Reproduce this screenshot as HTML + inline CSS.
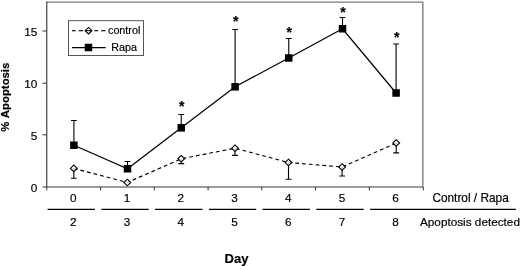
<!DOCTYPE html><html><head><meta charset="utf-8"><style>html,body{margin:0;padding:0;background:#fff}svg{display:block}text{stroke:#000;stroke-width:0.18px}</style></head><body><svg width="520" height="266" viewBox="0 0 520 266" font-family="'Liberation Sans', Arial, Helvetica, sans-serif" font-size="11.75" fill="#000" stroke="#000" stroke-width="0">
<rect width="520" height="266" fill="#fff"/>
<path d="M46.75 2.05H422.85V187.0" fill="none" stroke="#7a7a7a" stroke-width="1.35"/>
<path d="M46.75 1.5499999999999998V187.0H422.85" fill="none" stroke="#3a3a3a" stroke-width="1.15"/>
<line x1="42.45" y1="187.0" x2="46.75" y2="187.0" stroke="#333" stroke-width="1"/>
<text x="37.3" y="192.0" text-anchor="end">0</text>
<line x1="42.45" y1="134.8" x2="46.75" y2="134.8" stroke="#333" stroke-width="1"/>
<text x="37.3" y="139.8" text-anchor="end">5</text>
<line x1="42.45" y1="83.2" x2="46.75" y2="83.2" stroke="#333" stroke-width="1"/>
<text x="37.3" y="88.2" text-anchor="end">10</text>
<line x1="42.45" y1="31.0" x2="46.75" y2="31.0" stroke="#333" stroke-width="1"/>
<text x="37.3" y="36.0" text-anchor="end">15</text>
<line x1="46.75" y1="187.0" x2="46.75" y2="190.4" stroke="#333" stroke-width="1"/>
<line x1="100.6" y1="187.0" x2="100.6" y2="190.4" stroke="#333" stroke-width="1"/>
<line x1="154.3" y1="187.0" x2="154.3" y2="190.4" stroke="#333" stroke-width="1"/>
<line x1="208.1" y1="187.0" x2="208.1" y2="190.4" stroke="#333" stroke-width="1"/>
<line x1="261.8" y1="187.0" x2="261.8" y2="190.4" stroke="#333" stroke-width="1"/>
<line x1="315.5" y1="187.0" x2="315.5" y2="190.4" stroke="#333" stroke-width="1"/>
<line x1="369.3" y1="187.0" x2="369.3" y2="190.4" stroke="#333" stroke-width="1"/>
<line x1="423.25" y1="187.0" x2="423.25" y2="190.4" stroke="#333" stroke-width="1"/>
<path d="M73.8 168.4V178.2M70.89999999999999 178.2H76.7" stroke="#000" stroke-width="1.1" fill="none"/>
<path d="M181.25 158.75V163.6M178.35 163.6H184.15" stroke="#000" stroke-width="1.1" fill="none"/>
<path d="M235 148.25V155.4M232.1 155.4H237.9" stroke="#000" stroke-width="1.1" fill="none"/>
<path d="M288.5 162.5V179.2M285.6 179.2H291.4" stroke="#000" stroke-width="1.1" fill="none"/>
<path d="M342.1 167.0V176.0M339.20000000000005 176.0H345.0" stroke="#000" stroke-width="1.1" fill="none"/>
<path d="M396.2 143V152.9M393.3 152.9H399.09999999999997" stroke="#000" stroke-width="1.1" fill="none"/>
<path d="M73.9 145.25V120.5M71.0 120.5H76.80000000000001" stroke="#000" stroke-width="1.1" fill="none"/>
<path d="M127.5 168.75V161.5M124.6 161.5H130.4" stroke="#000" stroke-width="1.1" fill="none"/>
<path d="M181.25 127.8V114.5M178.35 114.5H184.15" stroke="#000" stroke-width="1.1" fill="none"/>
<path d="M235.1 86.8V29.5M232.2 29.5H238.0" stroke="#000" stroke-width="1.1" fill="none"/>
<path d="M288.75 58V38.5M285.85 38.5H291.65" stroke="#000" stroke-width="1.1" fill="none"/>
<path d="M342.5 28.75V17.5M339.6 17.5H345.4" stroke="#000" stroke-width="1.1" fill="none"/>
<path d="M396.1 93V44.0M393.20000000000005 44.0H399.0" stroke="#000" stroke-width="1.1" fill="none"/>
<polyline points="73.8,168.4 127.3,182.5 181.25,158.75 235,148.25 288.5,162.5 342.1,167.0 396.2,143" fill="none" stroke="#000" stroke-width="1.15" stroke-dasharray="3.8 3"/>
<polyline points="73.9,145.25 127.5,168.75 181.25,127.8 235.1,86.8 288.75,58 342.5,28.75 396.1,93" fill="none" stroke="#000" stroke-width="1.25"/>
<path d="M73.8 165.1L77.2 168.4L73.8 171.70000000000002L70.39999999999999 168.4Z" fill="#fff" fill-opacity="0.75" stroke="#000" stroke-width="1.1"/>
<path d="M127.3 179.2L130.7 182.5L127.3 185.8L123.89999999999999 182.5Z" fill="#fff" fill-opacity="0.75" stroke="#000" stroke-width="1.1"/>
<path d="M181.25 155.45L184.65 158.75L181.25 162.05L177.85 158.75Z" fill="#fff" fill-opacity="0.75" stroke="#000" stroke-width="1.1"/>
<path d="M235 144.95L238.4 148.25L235 151.55L231.6 148.25Z" fill="#fff" fill-opacity="0.75" stroke="#000" stroke-width="1.1"/>
<path d="M288.5 159.2L291.9 162.5L288.5 165.8L285.1 162.5Z" fill="#fff" fill-opacity="0.75" stroke="#000" stroke-width="1.1"/>
<path d="M342.1 163.7L345.5 167.0L342.1 170.3L338.70000000000005 167.0Z" fill="#fff" fill-opacity="0.75" stroke="#000" stroke-width="1.1"/>
<path d="M396.2 139.7L399.59999999999997 143L396.2 146.3L392.8 143Z" fill="#fff" fill-opacity="0.75" stroke="#000" stroke-width="1.1"/>
<rect x="70.15" y="141.5" width="7.5" height="7.5" fill="#000"/>
<rect x="123.75" y="165.0" width="7.5" height="7.5" fill="#000"/>
<rect x="177.5" y="124.05" width="7.5" height="7.5" fill="#000"/>
<rect x="231.35" y="83.05" width="7.5" height="7.5" fill="#000"/>
<rect x="285.0" y="54.25" width="7.5" height="7.5" fill="#000"/>
<rect x="338.75" y="25.0" width="7.5" height="7.5" fill="#000"/>
<rect x="392.35" y="89.25" width="7.5" height="7.5" fill="#000"/>
<text x="181.85" y="110.7" text-anchor="middle" font-weight="bold" font-size="14">*</text>
<text x="235.7" y="26.0" text-anchor="middle" font-weight="bold" font-size="14">*</text>
<text x="289.35" y="37.1" text-anchor="middle" font-weight="bold" font-size="14">*</text>
<text x="343.1" y="17.4" text-anchor="middle" font-weight="bold" font-size="14">*</text>
<text x="396.70000000000005" y="42.0" text-anchor="middle" font-weight="bold" font-size="14">*</text>
<rect x="68.5" y="20.7" width="75" height="34.8" fill="#fff" stroke="#555" stroke-width="1"/>
<line x1="71.9" y1="30.7" x2="75.6" y2="30.7" stroke="#000" stroke-width="1.15"/>
<line x1="78.7" y1="30.7" x2="83.1" y2="30.7" stroke="#000" stroke-width="1.15"/>
<line x1="94.4" y1="30.7" x2="98.1" y2="30.7" stroke="#000" stroke-width="1.15"/>
<line x1="101.2" y1="30.7" x2="105.5" y2="30.7" stroke="#000" stroke-width="1.15"/>
<line x1="85" y1="30.7" x2="92" y2="30.7" stroke="#000" stroke-width="1"/>
<path d="M88.5 27.4L91.9 30.7L88.5 34.0L85.1 30.7Z" fill="none" stroke="#000" stroke-width="1.1"/>
<text x="108" y="33.8" font-size="10.75">control</text>
<line x1="72" y1="47.5" x2="105.6" y2="47.5" stroke="#000" stroke-width="1.25"/>
<rect x="84.75" y="43.75" width="7.5" height="7.5" fill="#000"/>
<text x="111.2" y="50.6" font-size="10.75">Rapa</text>
<text x="73.30000000000001" y="202.1" text-anchor="middle">0</text>
<text x="73.30000000000001" y="226.4" text-anchor="middle">2</text>
<line x1="47.55" y1="209.3" x2="95.0" y2="209.3" stroke="#000" stroke-width="1.2"/>
<text x="126.9" y="202.1" text-anchor="middle">1</text>
<text x="126.9" y="226.4" text-anchor="middle">3</text>
<line x1="101.39999999999999" y1="209.3" x2="148.70000000000002" y2="209.3" stroke="#000" stroke-width="1.2"/>
<text x="180.65" y="202.1" text-anchor="middle">2</text>
<text x="180.65" y="226.4" text-anchor="middle">4</text>
<line x1="155.10000000000002" y1="209.3" x2="202.5" y2="209.3" stroke="#000" stroke-width="1.2"/>
<text x="234.5" y="202.1" text-anchor="middle">3</text>
<text x="234.5" y="226.4" text-anchor="middle">5</text>
<line x1="208.9" y1="209.3" x2="256.2" y2="209.3" stroke="#000" stroke-width="1.2"/>
<text x="288.15" y="202.1" text-anchor="middle">4</text>
<text x="288.15" y="226.4" text-anchor="middle">6</text>
<line x1="262.6" y1="209.3" x2="309.9" y2="209.3" stroke="#000" stroke-width="1.2"/>
<text x="341.9" y="202.1" text-anchor="middle">5</text>
<text x="341.9" y="226.4" text-anchor="middle">7</text>
<line x1="316.3" y1="209.3" x2="363.7" y2="209.3" stroke="#000" stroke-width="1.2"/>
<text x="395.5" y="202.1" text-anchor="middle">6</text>
<text x="395.5" y="226.4" text-anchor="middle">8</text>
<line x1="370.1" y1="209.3" x2="515.8" y2="209.3" stroke="#000" stroke-width="1.2"/>
<text x="432.4" y="202.0" font-size="11.85">Control / Rapa</text>
<text x="420" y="226.0">Apoptosis detected</text>
<text x="236.5" y="263" text-anchor="middle" font-weight="bold" font-size="13">Day</text>
<text transform="translate(8.5,97.25) rotate(-90)" word-spacing="0.9" text-anchor="middle" font-weight="bold" font-size="11.35">% Apoptosis</text>
</svg></body></html>
